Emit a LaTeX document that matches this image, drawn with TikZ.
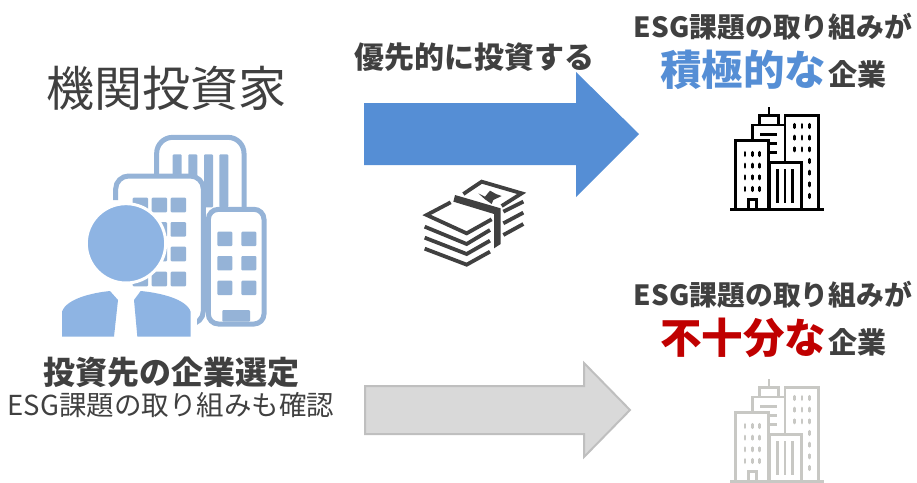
\documentclass[tikz,border=0pt]{standalone}
\usepackage{fontspec}
\setmainfont{Noto Sans CJK JP}
\definecolor{bluearrow}{HTML}{558ED5}
\definecolor{grayarrow}{HTML}{D9D9D9}
\definecolor{grayedge}{HTML}{BFBFBF}
\definecolor{darktext}{HTML}{404040}
\definecolor{redtext}{HTML}{C00000}
\definecolor{buildblue}{HTML}{95B3D7}
\definecolor{personblue}{HTML}{8EB4E3}
\definecolor{billgray}{HTML}{404040}
\definecolor{towergray}{HTML}{C8C8C4}
\tikzset{
  title/.style={font=\fontsize{27.8}{28}\selectfont\bfseries,text=darktext,inner sep=0pt},
  towerpic/.pic={
    \draw[line width=2.7pt,pic actions] (30,328) -- (312,328);
    \draw[line width=2.7pt,pic actions] (47,328) -- (47,122) -- (145,122) -- (145,328);
    \draw[line width=2.7pt,pic actions] (150,328) -- (150,187) -- (245,187) -- (245,328);
    \draw[line width=2.7pt,pic actions] (195,187) -- (195,47) -- (295,47) -- (295,328);
    \draw[line width=2.7pt,pic actions] (97,122) -- (97,75) -- (195,75);
    \draw[line width=2.7pt,pic actions] (118,75) -- (118,47) -- (175,47) -- (175,75);
    \draw[line width=2.7pt,pic actions] (147,47) -- (147,22);
    \draw[line width=2.7pt,pic actions] (120,103) -- (172,103);
    \draw[line width=2.7pt,pic actions] (150,130) -- (172,130);
    \draw[line width=2.7pt,pic actions] (150,158) -- (172,158);
    \draw[line width=2.7pt,pic actions] (85,328) -- (85,298) -- (110,298) -- (110,328);
    \foreach \xbar in {172,195,218}
      \draw[line width=2.7pt,pic actions] (\xbar,207) -- (\xbar,308);
    \foreach \xwin in {75,97,119}
      \foreach \ywin in {162,197,232,267}
        \draw[line width=2.7pt,line cap=round,pic actions] (\xwin,\ywin-5) -- (\xwin,\ywin+5);
    \foreach \xwin in {224,246,268}
      \foreach \ywin in {78,113,148}
        \draw[line width=2.7pt,line cap=round,pic actions] (\xwin,\ywin-5) -- (\xwin,\ywin+5);
    \foreach \ywin in {183,218,253,288}
      \draw[line width=2.7pt,line cap=round,pic actions] (268,\ywin-5) -- (268,\ywin+5);
  }
}
\begin{document}
\begin{tikzpicture}[x=1pt,y=-1pt]
\useasboundingbox (0,0) rectangle (917,482);

% arrows
\fill[bluearrow] (364,103) -- (576,103) -- (576,72) -- (639,134) -- (576,197) -- (576,165) -- (364,165) -- cycle;
\draw[grayedge,fill=grayarrow,line width=2pt] (365,386) -- (584,386) -- (584,363) -- (630,410) -- (584,457) -- (584,434) -- (365,434) -- cycle;

% texts left
\node[inner sep=0pt,text=darktext,font=\fontsize{48}{48}\selectfont] (investor) at (166,88) {機関投資家};
\node[title,font=\fontsize{32}{32}\selectfont\bfseries] (select) at (171,372) {投資先の企業選定};
\node[inner sep=0pt,text=darktext,font=\fontsize{27.5}{28}\selectfont] (confirm) at (171,405) {ESG課題の取り組みも確認};

% texts middle and right
\node[title,font=\fontsize{30}{31}\selectfont\bfseries] (invest) at (474,57) {優先的に投資する};
\node[title] (goodtop) at (773,27) {ESG課題の取り組みが};
\node[inner sep=0pt,anchor=base west,text=bluearrow,font=\fontsize{41.5}{42}\selectfont\bfseries] (good) at (660,85) {積極的な};
\node[title,anchor=base west,font=\fontsize{29}{29}\selectfont\bfseries] (goodco) at (828,85) {企業};
\node[title] (badtop) at (773,295) {ESG課題の取り組みが};
\node[inner sep=0pt,anchor=base west,text=redtext,font=\fontsize{41.5}{42}\selectfont\bfseries] (bad) at (660,353) {不十分な};
\node[title,anchor=base west,font=\fontsize{29}{29}\selectfont\bfseries] (badco) at (828,353) {企業};

% towers
\begin{scope}[shift={(720,100)},x=1pt/3,y=-1pt/3]
  \pic[color=black] {towerpic};
\end{scope}
\begin{scope}[shift={(720,372)},x=1pt/3,y=-1pt/3]
  \pic[color=towergray] {towerpic};
\end{scope}

% investor icon
\begin{scope}[shift={(40,120)},x=1pt/3,y=-1pt/3]
  % back building
  \draw[buildblue,line width=5pt,rounded corners=16pt] (350,170) -- (350,52) -- (612,52) -- (612,265);
  \foreach \xbar in {398,445,492,538}
    \fill[buildblue,rounded corners=1pt] (\xbar,103) rectangle (\xbar+27,262);
  % middle building
  \fill[white] (228,175) rectangle (490,610);
  \draw[buildblue,line width=5pt,rounded corners=13pt] (227,240) -- (227,168) -- (490,168) -- (490,612) -- (468,612);
  \foreach \xwin in {278,335,392}
    \foreach \ywin in {233,306,380,455}
      \fill[buildblue,rounded corners=1pt] (\xwin,\ywin) rectangle (\xwin+46,\ywin+44);
  % right building
  \draw[buildblue,fill=white,line width=5pt,rounded corners=10pt] (505,612) -- (505,268) -- (672,268) -- (672,612) -- cycle;
  \foreach \xwin in {532,604}
    \foreach \ywin in {335,408,482}
      \fill[buildblue,rounded corners=1pt] (\xwin,\ywin) rectangle (\xwin+45,\ywin+43);
  \fill[buildblue,rounded corners=1pt] (547,605) -- (547,570) -- (630,570) -- (630,605) -- cycle;
  % person
  \fill[personblue,draw=white,line width=3pt] (258,370) circle[radius=119];
  \fill[white] (40,500) rectangle (470,660);
  \fill[personblue] (66,650) -- (66,575) .. controls (80,535) and (160,518) .. (210,513) -- (234,540) -- (222,650) -- cycle;
  \fill[personblue] (452,650) -- (452,575) .. controls (438,535) and (355,518) .. (302,513) -- (282,540) -- (292,650) -- cycle;
\end{scope}

% money icon
\begin{scope}[shift={(410,170)},x=1pt/3,y=-1pt/3,billgray,line width=3.8pt]
  \draw (44,170) -- (170,222) -- (240,180);
  \draw (44,203) -- (170,252) -- (240,212);
  \draw (44,236) -- (170,284) -- (240,245);
  \draw (122,97) -- (50,135) -- (170,190) -- (245,148);
  \draw (280,125) -- (340,95);
  \draw (280,160) -- (340,128);
  \draw (280,195) -- (340,162);
  \draw (160,72) -- (215,35) -- (335,70) -- (275,108);
  \fill (135,75) -- (272,115) -- (272,222) -- (252,235) -- (252,132) -- (130,95) -- cycle;
  \fill (205,70) -- (225,80) -- (240,62) -- (258,72) -- (275,78) -- (250,90) -- (245,102) -- (225,88) -- cycle;
\end{scope}
\end{tikzpicture}
\end{document}
